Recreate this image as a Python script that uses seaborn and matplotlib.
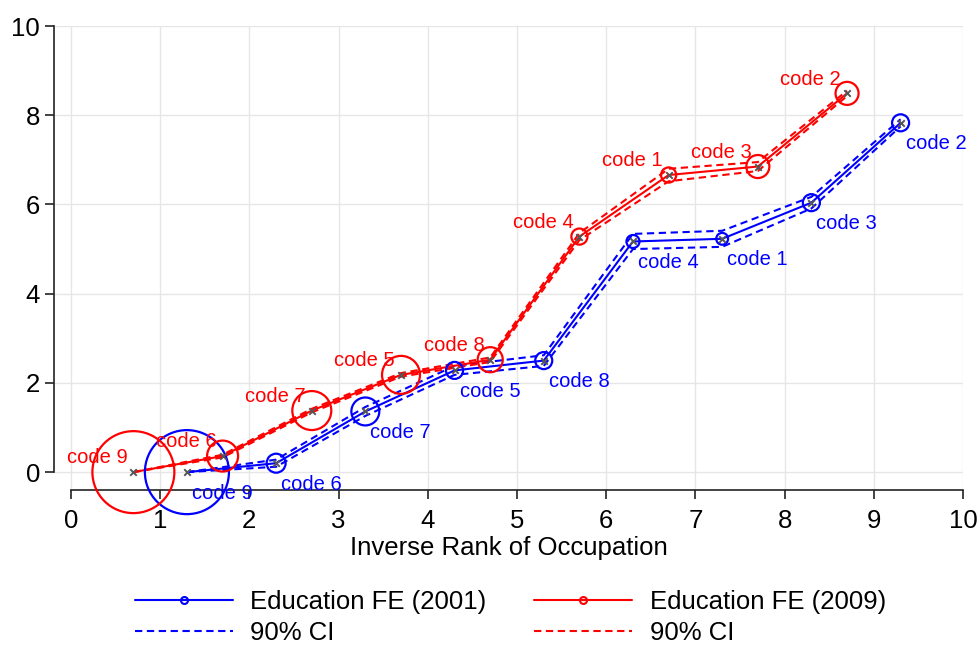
import matplotlib
matplotlib.use("Agg")
import matplotlib.pyplot as plt
from matplotlib.lines import Line2D
import pandas as pd
import seaborn as sns

# Occupation codes, ordered by inverse rank
codes = ["code 9", "code 6", "code 7", "code 5", "code 8",
         "code 4", "code 1", "code 3", "code 2"]

# 2001 estimates
rank_2001 = [1.3, 2.3, 3.3, 4.3, 5.3, 6.3, 7.3, 8.3, 9.3]
fe_2001 = [0.0, 0.20, 1.36, 2.28, 2.50, 5.17, 5.23, 6.04, 7.83]
lo_2001 = [0.0, 0.12, 1.26, 2.18, 2.38, 5.00, 5.05, 5.91, 7.75]
hi_2001 = [0.0, 0.28, 1.46, 2.38, 2.62, 5.34, 5.41, 6.17, 7.91]
weight_2001 = [70.6, 3.6, 7.8, 2.9, 2.9, 1.7, 1.4, 2.9, 2.9]

# 2009 estimates
rank_2009 = [0.7, 1.7, 2.7, 3.7, 4.7, 5.7, 6.7, 7.7, 8.7]
fe_2009 = [0.0, 0.36, 1.38, 2.18, 2.52, 5.28, 6.66, 6.85, 8.49]
lo_2009 = [0.0, 0.33, 1.34, 2.14, 2.47, 5.20, 6.52, 6.75, 8.43]
hi_2009 = [0.0, 0.39, 1.42, 2.22, 2.57, 5.36, 6.80, 6.95, 8.55]
weight_2009 = [67.2, 9.6, 15.2, 14.4, 6.3, 2.6, 2.3, 5.3, 5.3]

xticks = list(range(0, 11))
yticks = [0, 2, 4, 6, 8, 10]

sns.set_theme(style="white")
plt.rcParams["font.family"] = ["Liberation Sans", "DejaVu Sans"]
plt.rcParams["text.color"] = "black"
plt.rcParams["axes.labelcolor"] = "black"

df01 = pd.DataFrame({"rank": rank_2001, "fe": fe_2001, "lo": lo_2001,
                     "hi": hi_2001, "w": weight_2001, "code": codes})
df09 = pd.DataFrame({"rank": rank_2009, "fe": fe_2009, "lo": lo_2009,
                     "hi": hi_2009, "w": weight_2009, "code": codes})

fig = plt.figure(figsize=(9.78, 6.47), dpi=100)
ax = fig.add_axes([0.0552, 0.2427, 0.9295, 0.7171])

AREA_SCALE = 51.84  # points^2 per unit of weight
FS = 18.5
LAB_FS = 14.5
DASH = (0, (3.5, 2.2))

def draw_series(df, color, label_offset, ha):
    for col in ["lo", "hi"]:
        sns.lineplot(data=df, x="rank", y=col, ax=ax, color=color, lw=1.5,
                     linestyle=DASH, sort=False, estimator=None,
                     clip_on=False, zorder=3)
    sns.lineplot(data=df, x="rank", y="fe", ax=ax, color=color, lw=1.5,
                 sort=False, estimator=None, clip_on=False, zorder=4)
    sns.scatterplot(data=df, x="rank", y="fe", ax=ax, marker="o",
                    s=df["w"] * AREA_SCALE, facecolor="none",
                    edgecolor=color, linewidth=1.6, clip_on=False, zorder=5)
    sns.scatterplot(data=df, x="rank", y="fe", ax=ax, marker="x",
                    s=22, color="#555555", linewidth=1.4, clip_on=False,
                    zorder=6)
    for xv, yv, txt in zip(df["rank"], df["fe"], df["code"]):
        ax.annotate(txt, (xv, yv), xytext=label_offset,
                    textcoords="offset points", ha=ha, va="center",
                    color=color, fontsize=LAB_FS, zorder=7,
                    annotation_clip=False)

draw_series(df01, "blue", (3.6, -15.2), "left")
draw_series(df09, "red", (-4.3, 10.2), "right")

ax.set_xlim(-0.19, 10.0)
ax.set_ylim(-0.40, 10.0)
ax.set_xticks(xticks)
ax.set_yticks(yticks)
ax.grid(True, color="#e6e6e6", lw=1.0, zorder=0)
ax.set_axisbelow(True)

for s in ["top", "right"]:
    ax.spines[s].set_visible(False)
for s in ["left", "bottom"]:
    ax.spines[s].set_color("#222222")
    ax.spines[s].set_linewidth(1.2)
ax.spines["left"].set_bounds(0, 10)
ax.spines["bottom"].set_bounds(0, 10)

ax.tick_params(axis="both", which="major", direction="out", length=6.5,
               width=1.2, color="#222222", labelsize=FS, labelcolor="black",
               pad=3.5, left=True, bottom=True)
ax.tick_params(axis="x", pad=7.5)
ax.set_xlabel("Inverse Rank of Occupation", fontsize=FS, labelpad=1.5)
ax.set_ylabel("")

handles = [
    Line2D([], [], color="blue", lw=1.5, marker="o", markersize=5,
           markerfacecolor="none", markeredgewidth=1.5),
    Line2D([], [], color="blue", lw=1.5, linestyle=DASH),
    Line2D([], [], color="red", lw=1.5, marker="o", markersize=5,
           markerfacecolor="none", markeredgewidth=1.5),
    Line2D([], [], color="red", lw=1.5, linestyle=DASH),
]
labels = ["Education FE (2001)", "90% CI", "Education FE (2009)", "90% CI"]
fig.legend(handles, labels, loc="center", bbox_to_anchor=(0.522, 0.0456),
           ncol=2, frameon=False, fontsize=FS, handlelength=3.8,
           handletextpad=0.7, columnspacing=1.85, labelspacing=0.3,
           numpoints=1, borderpad=0)

fig.savefig("out.png", dpi=100)
